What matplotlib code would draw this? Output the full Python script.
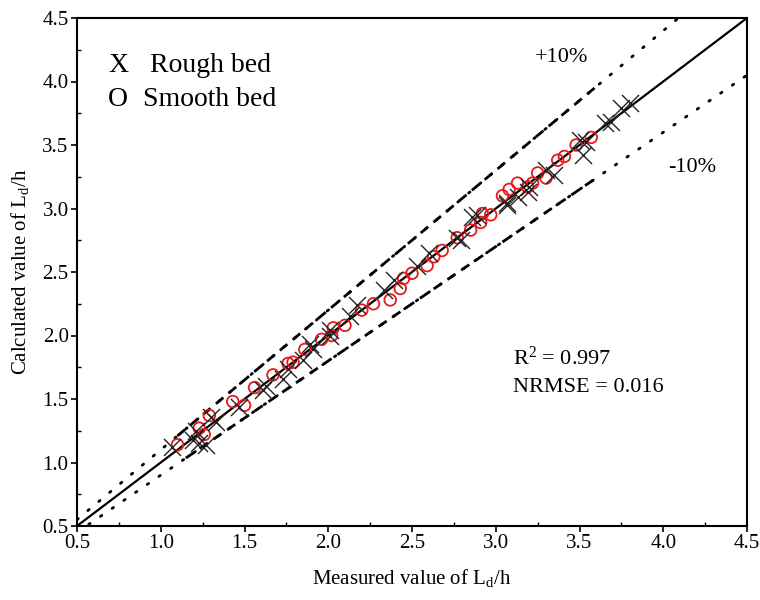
import matplotlib
matplotlib.use("Agg")
import matplotlib.pyplot as plt
from matplotlib.ticker import MultipleLocator

plt.rcParams['font.family'] = ['Liberation Serif', 'DejaVu Serif']
plt.rcParams['mathtext.fontset'] = 'custom'
plt.rcParams['mathtext.rm'] = 'Liberation Serif'
plt.rcParams['mathtext.it'] = 'Liberation Serif'

rough_x = [1.07, 1.19, 1.23, 1.27, 1.21, 1.33, 1.30, 1.47, 1.61, 1.63, 1.73, 1.76,
           1.85, 1.91, 1.89, 2.01, 2.01, 2.13, 2.17, 2.33, 2.39, 2.53, 2.60, 2.77,
           2.79, 2.86, 2.89, 3.07, 3.07, 3.13, 3.19, 3.20, 3.30, 3.35, 3.50, 3.52,
           3.54, 3.65, 3.69, 3.75, 3.80]
rough_y = [1.12, 1.18, 1.15, 1.14, 1.25, 1.32, 1.36, 1.44, 1.57, 1.60, 1.66, 1.74,
           1.81, 1.89, 1.93, 2.00, 2.04, 2.15, 2.24, 2.36, 2.44, 2.55, 2.65, 2.77,
           2.75, 2.93, 2.95, 3.03, 3.04, 3.09, 3.13, 3.17, 3.30, 3.26, 3.54, 3.42,
           3.52, 3.67, 3.68, 3.79, 3.83]

smooth_x = [1.10, 1.23, 1.26, 1.29, 1.43, 1.50, 1.56, 1.67, 1.76, 1.79, 1.86, 1.96,
            2.02, 2.03, 2.10, 2.20, 2.27, 2.37, 2.43, 2.45, 2.50, 2.59, 2.63, 2.68,
            2.77, 2.85, 2.91, 2.92, 2.97, 3.04, 3.08, 3.13, 3.19, 3.22, 3.25, 3.30,
            3.37, 3.41, 3.48, 3.57]
smooth_y = [1.14, 1.27, 1.22, 1.37, 1.48, 1.45, 1.59, 1.69, 1.78, 1.79, 1.89, 1.97,
            2.00, 2.06, 2.08, 2.20, 2.25, 2.28, 2.37, 2.45, 2.49, 2.55, 2.62, 2.67,
            2.77, 2.83, 2.89, 2.96, 2.95, 3.10, 3.15, 3.20, 3.17, 3.20, 3.28, 3.24,
            3.38, 3.41, 3.50, 3.56]

W, H = 760, 600
fig = plt.figure(figsize=(W / 100, H / 100), dpi=100)
ax = fig.add_axes([77 / W, 1 - 526 / H, (747 - 77) / W, (526 - 18) / H])

lo, hi = 0.5, 4.5
ax.set_xlim(lo, hi)
ax.set_ylim(lo, hi)

# 1:1 line
ax.plot([lo, hi], [lo, hi], color='black', lw=1.6, zorder=3)
# +/-10% lines dotted over full range
xs = [lo, hi]
ax.plot(xs, [1.1 * v for v in xs], color='black', lw=2.0, linestyle=(0, (0.6, 4.5)),
        dash_capstyle='round', zorder=2)
ax.plot(xs, [0.9 * v for v in xs], color='black', lw=2.0, linestyle=(0, (0.6, 4.5)),
        dash_capstyle='round', zorder=2)
# dashed over data range
xd = [1.1, 3.6]
ax.plot(xd, [1.1 * v for v in xd], color='black', lw=2.0, linestyle=(0, (3.5, 2.5)), zorder=2)
xd2 = [1.15, 3.6]
ax.plot(xd2, [0.9 * v for v in xd2], color='black', lw=2.0, linestyle=(0, (3.5, 2.5)), zorder=2)

ax.scatter(smooth_x, smooth_y, s=70, facecolors='none', edgecolors='#e8191c', linewidths=1.3, zorder=4)
ax.scatter(rough_x, rough_y, s=150, marker='x', color='#222222', linewidths=1.0, zorder=5)

ax.xaxis.set_major_locator(MultipleLocator(0.5))
ax.yaxis.set_major_locator(MultipleLocator(0.5))
ax.xaxis.set_minor_locator(MultipleLocator(0.25))
ax.yaxis.set_minor_locator(MultipleLocator(0.25))
ax.tick_params(which='major', direction='out', length=4, width=1.2, labelsize=15, pad=2)
ax.tick_params(which='minor', direction='in', length=3, width=1.0)
ax.set_xticklabels([])
ax.xaxis.set_major_formatter(plt.FormatStrFormatter('%.1f'))
ax.yaxis.set_major_formatter(plt.FormatStrFormatter('%.1f'))
for s in ax.spines.values():
    s.set_linewidth(1.5)

ax.set_xlabel(r'Measured value of L$_\mathregular{d}$/h', fontsize=15, labelpad=10)
ax.set_ylabel(r'Calculated value of L$_\mathregular{d}$/h', fontsize=15, labelpad=8)

def ftext(px, py, s, **kw):
    fig.text(px / W, 1 - py / H, s, **kw)

ftext(108, 65, 'X', fontsize=20, va='center', ha='left')
ftext(150, 65, 'Rough bed', fontsize=20, va='center', ha='left')
ftext(108, 100, 'O', fontsize=20, va='center', ha='left')
ftext(143, 100, 'Smooth bed', fontsize=20, va='center', ha='left')
ftext(535, 57, '+10%', fontsize=16, va='center', ha='left')
ftext(668, 167, '-10%', fontsize=16, va='center', ha='left')
ftext(513, 358, r'R$^\mathregular{2}$ = 0.997', fontsize=16, va='center', ha='left')
ftext(513, 387, 'NRMSE = 0.016', fontsize=16, va='center', ha='left')

fig.savefig('out.png', dpi=100)
